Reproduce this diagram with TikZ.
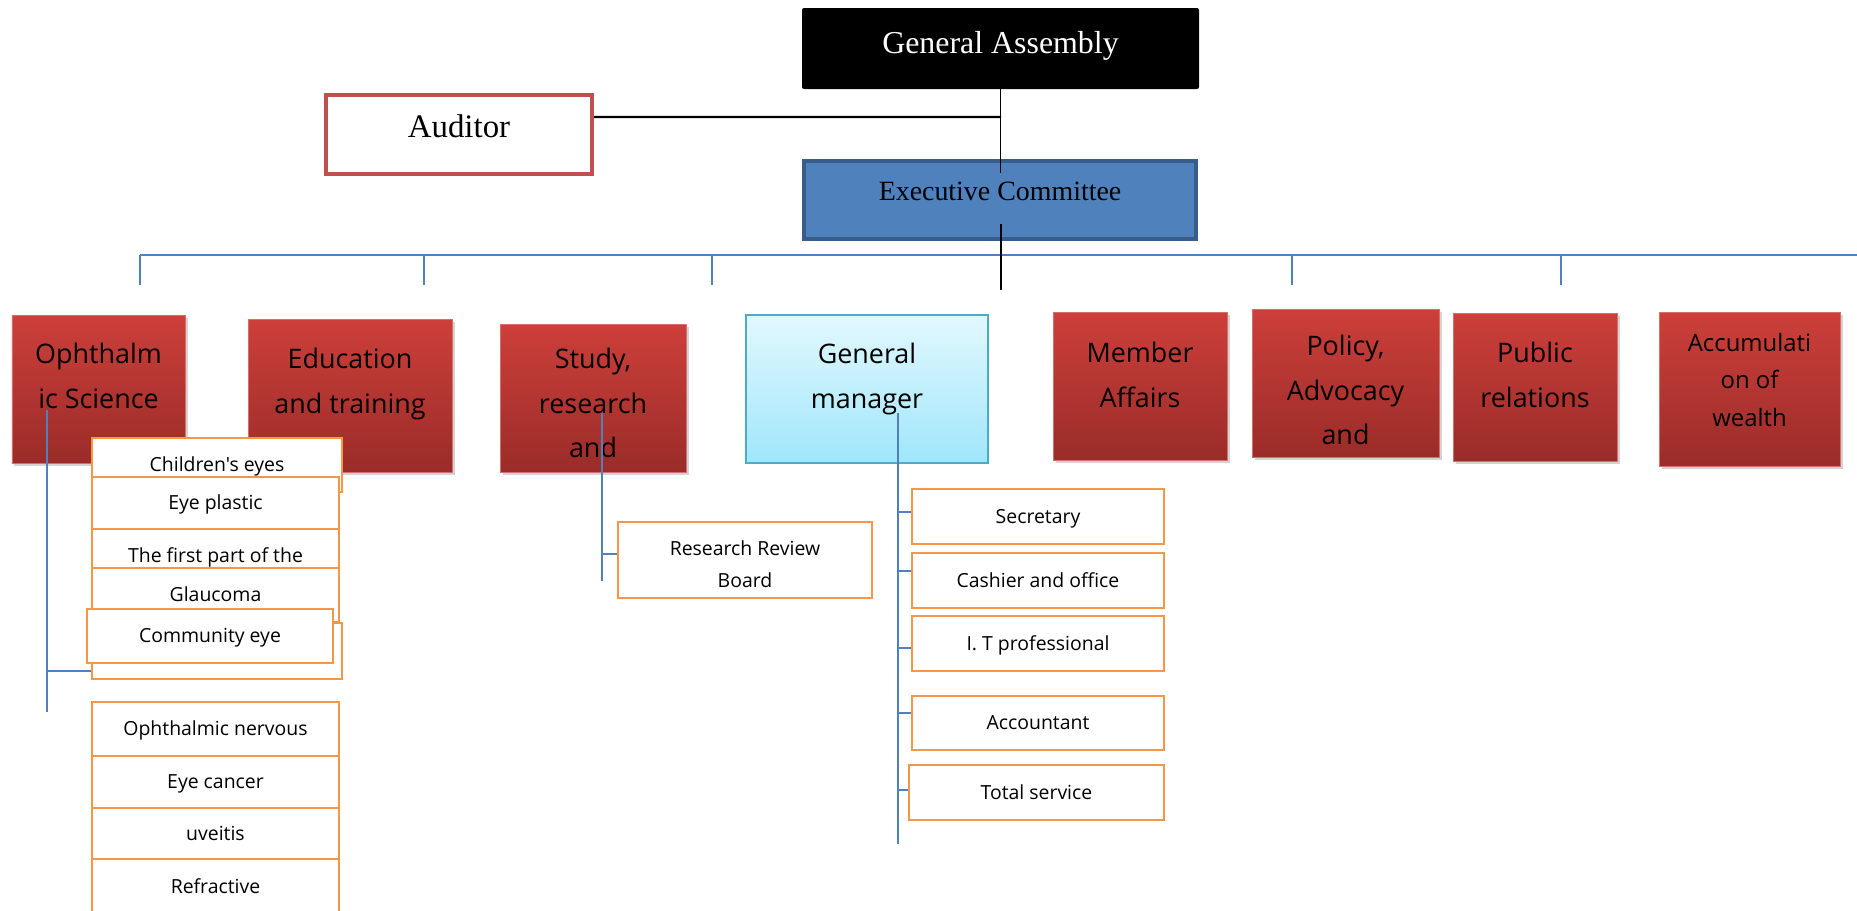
\documentclass[tikz,border=0pt]{standalone}
\usepackage{fontspec}
\setmainfont{Liberation Serif}
\newfontfamily\osans{Open Sans}
\usetikzlibrary{shadows}
\definecolor{accred}{RGB}{192,80,77}
\definecolor{accblue}{RGB}{79,129,189}
\definecolor{accbluedk}{RGB}{56,93,138}
\definecolor{redtop}{RGB}{205,63,58}
\definecolor{redbot}{RGB}{154,44,41}
\definecolor{redline}{RGB}{214,110,105}
\definecolor{cyantop}{RGB}{226,248,254}
\definecolor{cyanbot}{RGB}{160,230,251}
\definecolor{cyanline}{RGB}{75,172,198}
\definecolor{orangeline}{RGB}{247,150,70}
\begin{document}
\begin{tikzpicture}[x=1bp,y=-1bp,
  redbox/.style={rectangle, draw=redline, line width=0.8bp, top color=redtop, bottom color=redbot,
    drop shadow={shadow xshift=2.5bp, shadow yshift=-3bp, opacity=0.35}, inner sep=0},
  gmbox/.style={rectangle, draw=cyanline, line width=2bp, top color=cyantop, bottom color=cyanbot, inner sep=0},
  redtxt/.style={font=\osans\fontsize{27}{45}\selectfont, align=center, inner sep=0},
  subbox/.style={rectangle, draw=orangeline, line width=1.3bp, fill=white, inner sep=0,
    font=\osans\fontsize{19.5}{32}\selectfont, text height=14bp, text depth=1bp},
  subtxt/.style={font=\osans\fontsize{19.5}{32}\selectfont, align=center, inner sep=0},
  blueline/.style={draw=accblue, line width=1.8bp},
  blackline/.style={draw=black, line width=1.6bp},
]
\useasboundingbox (0,0) rectangle (1857,911);
\clip (0,0) rectangle (1857,911);

% top level
\node[rectangle, fill=black, rounded corners=2bp, minimum width=397bp, minimum height=81bp, inner sep=0] (ga) at (1000.5,48.5) {};
\node[font=\fontsize{32}{36}\selectfont, text=white, inner sep=0] (gat) at (1000.5,45.5) {General Assembly};
\node[rectangle, draw=accred, line width=4bp, fill=white, minimum width=266bp, minimum height=79bp, inner sep=0] (aud) at (459,134.5) {};
\node[font=\fontsize{33}{36}\selectfont, inner sep=0] (audt) at (459,126) {Auditor};
\node[rectangle, draw=accbluedk, line width=4bp, fill=accblue, minimum width=392bp, minimum height=78bp, inner sep=0] (ex) at (1000,200) {};
\node[font=\fontsize{28}{30}\selectfont, inner sep=0] (ext) at (1000,191) {Executive Committee};

% bus
\coordinate (busL) at (140,255);
\coordinate (busR) at (1857,255);
\draw[blueline] (busL) -- (busR);
\foreach \i/\xx in {1/140,2/424,3/712,4/1292,5/1561}{
  \coordinate (tA\i) at (\xx,255);
  \coordinate (tB\i) at (\xx,285);
  \draw[blueline] (tA\i) -- (tB\i);
}

% black connectors
\coordinate (exIn1) at (1001,173);
\coordinate (exIn2) at (1001,224);
\coordinate (busC) at (1001,290);
\coordinate (audJ) at (1001,117);
\coordinate (audE) at ([yshift=17.5bp]aud.east);
\draw[blackline, line width=2.4bp] (audE) -- (audJ);
\draw[blackline] (ga.south) -- (ga.south |- exIn1);
\draw[blackline] (exIn2) -- (busC);

% second row
\node[redbox, minimum width=173bp, minimum height=148bp] (oph) at (98.5,389) {};
\node[redtxt] (opht) at (98.5,376) {Ophthalm\\ic Science};
\node[redbox, minimum width=204bp, minimum height=153bp] (edu) at (350,395.5) {};
\node[redtxt] (edut) at (350,384) {Education\\and training};
\node[redbox, minimum width=186bp, minimum height=148bp] (stu) at (593,398) {};
\node[redtxt] (stut) at (593,403) {Study,\\research\\and};
\node[gmbox, minimum width=242bp, minimum height=148bp] (gm) at (867,389) {};
\node[redtxt] (gmt) at (867,379) {General\\manager};
\node[redbox, minimum width=174bp, minimum height=148bp] (mem) at (1140,386) {};
\node[redtxt] (memt) at (1140,375) {Member\\Affairs};
\node[redbox, minimum width=187bp, minimum height=148bp] (pol) at (1345.5,383) {};
\node[redtxt] (polt) at (1345.5,390) {Policy,\\Advocacy\\and};
\node[redbox, minimum width=164bp, minimum height=148bp] (pub) at (1535,387) {};
\node[redtxt] (pubt) at (1535,375) {Public\\relations};
\node[redbox, minimum width=181bp, minimum height=154bp] (acc) at (1749.5,389) {};
\node[redtxt, font=\osans\fontsize{24}{38}\selectfont] (acct) at (1749.5,380) {Accumulati\\on of\\wealth};

% left column
\node[subbox, minimum width=250bp, minimum height=54bp] (c1) at (217,465) {Children's eyes};
\node[subbox, minimum width=247bp, minimum height=52bp] (c2) at (215.5,503) {Eye plastic};
\node[subbox, minimum width=247bp, minimum height=53bp] (c3) at (215.5,555.5) {The first part of the};
\node[subbox, minimum width=247bp, minimum height=54bp] (c4) at (215.5,595) {Glaucoma};
\node[subbox, minimum width=250bp, minimum height=56bp] (c5) at (217,651) {};
\node[subbox, minimum width=246bp, minimum height=54bp] (c6) at (210,636) {Community eye};
\node[subbox, minimum width=247bp, minimum height=54bp] (c7) at (215.5,729) {Ophthalmic nervous};
\node[subbox, minimum width=247bp, minimum height=52bp] (c8) at (215.5,782) {Eye cancer};
\node[subbox, minimum width=247bp, minimum height=51bp] (c9) at (215.5,833.5) {uveitis};
\node[subbox, minimum width=247bp, minimum height=56bp] (c10) at (215.5,887) {Refractive};

% research
\node[subbox, minimum width=254bp, minimum height=76bp] (rrb) at (745,560) {};
\node[subtxt] (rrbt) at (745,564) {Research Review\\Board};

% right column
\node[subbox, minimum width=252bp, minimum height=55bp] (r1) at (1038,516.5) {Secretary};
\node[subbox, minimum width=252bp, minimum height=55bp] (r2) at (1038,580.5) {Cashier and office};
\node[subbox, minimum width=252bp, minimum height=55bp] (r3) at (1038,643.5) {I. T professional};
\node[subbox, minimum width=252bp, minimum height=54bp] (r4) at (1038,723) {Accountant};
\node[subbox, minimum width=255bp, minimum height=55bp] (r5) at (1036.5,792.5) {Total service};

% blue connectors
\coordinate (ophA) at (47,410);
\coordinate (ophB) at (47,712);
\coordinate (c5J) at ([yshift=-20bp]c5.west);
\draw[blueline] (ophA) -- (ophB);
\draw[blueline] (ophA |- c5J) -- (c5J);

\coordinate (stA) at (602,413);
\coordinate (stB) at (602,581);
\coordinate (rrbJ) at ([yshift=6bp]rrb.west);
\draw[blueline] (stA) -- (stB);
\draw[blueline] (stA |- rrbJ) -- (rrbJ);

\coordinate (gmA) at (898,413);
\coordinate (gmB) at (898,844);
\draw[blueline] (gmA) -- (gmB);
\foreach \n/\s in {r1/4.5,r2/9.5,r3/-4.5,r4/10,r5/2.5}{
  \coordinate (\n J) at ([yshift=\s bp]\n.west);
  \draw[blueline] (gmA |- \n J) -- (\n J);
}
\end{tikzpicture}
\end{document}
